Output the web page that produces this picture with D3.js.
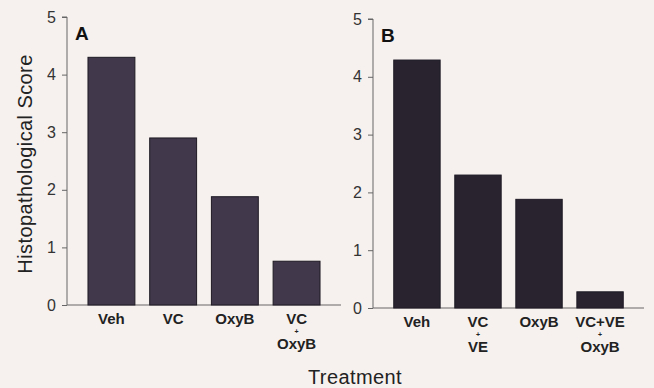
<!DOCTYPE html>
<html>
<head>
<meta charset="utf-8">
<script src="https://cdn.jsdelivr.net/npm/d3@7"></script>
<style>
  body { margin: 0; background: #f6f1ee; }
  svg { display: block; }
  .tick text { font-family: "Liberation Sans", Arial, sans-serif; font-size: 16px; fill: #333; }
  .cat { font-family: "Liberation Sans", Arial, sans-serif; font-size: 15px; font-weight: 700; fill: #222; }
</style>
</head>
<body>
<div id="chart"></div>
<script>
// panel A
const catsA = [['Veh'], ['VC'], ['OxyB'], ['VC', '+', 'OxyB']];
const valsA = [4.3, 2.9, 1.88, 0.76];
// panel B
const catsB = [['Veh'], ['VC', '+', 'VE'], ['OxyB'], ['VC+VE', '+', 'OxyB']];
const valsB = [4.29, 2.3, 1.88, 0.28];
const yTicks = [0, 1, 2, 3, 4, 5];

const W = 654, H = 388;
const svg = d3.select('#chart').append('svg').attr('width', W).attr('height', H);

function drawPanel(opts) {
  const y = d3.scaleLinear().domain([0, 5]).range([opts.y0, opts.y5]);
  const x = d3.scaleBand().domain(d3.range(opts.vals.length))
      .range([opts.left, opts.right]).paddingInner(0.24).paddingOuter(0.34);

  const g = svg.append('g');

  const yAxis = g.append('g')
      .attr('transform', 'translate(' + opts.left + ',0)')
      .call(d3.axisLeft(y).tickValues(yTicks).tickFormat(d3.format('d')).tickSize(5).tickPadding(6));
  yAxis.select('.domain').attr('stroke', '#666').attr('d', 'M-5,' + opts.y5 + 'H0V' + opts.y0);
  yAxis.selectAll('.tick line').attr('stroke', '#666');

  g.append('line')
      .attr('x1', opts.left).attr('x2', opts.right)
      .attr('y1', opts.y0).attr('y2', opts.y0)
      .attr('stroke', '#666').attr('stroke-width', 1.2);

  g.selectAll('rect.bar')
    .data(opts.vals)
    .enter().append('rect')
      .attr('class', 'bar')
      .attr('x', (d, i) => x(i))
      .attr('width', x.bandwidth())
      .attr('y', d => y(d))
      .attr('height', d => y(0) - y(d))
      .attr('fill', opts.fill)
      .attr('stroke', '#1e1a24').attr('stroke-width', 1);

  // category labels, stacked lines with a small "+" between them
  g.selectAll('g.cat')
    .data(opts.cats)
    .enter().append('g')
      .attr('class', 'catg')
      .attr('transform', (d, i) => 'translate(' + (x(i) + x.bandwidth() / 2) + ',' + (opts.y0 + 19) + ')')
    .each(function(lines) {
      const cell = d3.select(this);
      let yy = 0;
      lines.forEach((s, k) => {
        if (k > 0) yy += (s === '+' ? 10 : 15);
        cell.append('text')
          .attr('class', 'cat')
          .attr('text-anchor', 'middle')
          .attr('y', yy)
          .style('font-size', s === '+' ? '7px' : null)
          .text(s);
      });
    });

  g.append('text')
      .attr('x', opts.left + 8).attr('y', opts.y5 + 23)
      .style('font-family', '"Liberation Sans", Arial, sans-serif')
      .style('font-size', '19px').style('font-weight', '700').attr('fill', '#111')
      .text(opts.letter);
}

drawPanel({ vals: valsA, cats: catsA, left: 67, right: 341, y0: 305, y5: 17, fill: '#41384b', letter: 'A' });
drawPanel({ vals: valsB, cats: catsB, left: 373, right: 644, y0: 308, y5: 19, fill: '#28232f', letter: 'B' });

svg.append('text')
    .attr('transform', 'translate(32,164) rotate(-90)')
    .attr('text-anchor', 'middle')
    .style('font-family', '"Liberation Sans", Arial, sans-serif')
    .style('font-size', '20px').style('letter-spacing', '0.4px').attr('fill', '#222')
    .text('Histopathological Score');

svg.append('text')
    .attr('x', 355).attr('y', 384)
    .attr('text-anchor', 'middle')
    .style('font-family', '"Liberation Sans", Arial, sans-serif')
    .style('font-size', '20px').style('letter-spacing', '0.4px').attr('fill', '#222')
    .text('Treatment');
</script>
</body>
</html>
